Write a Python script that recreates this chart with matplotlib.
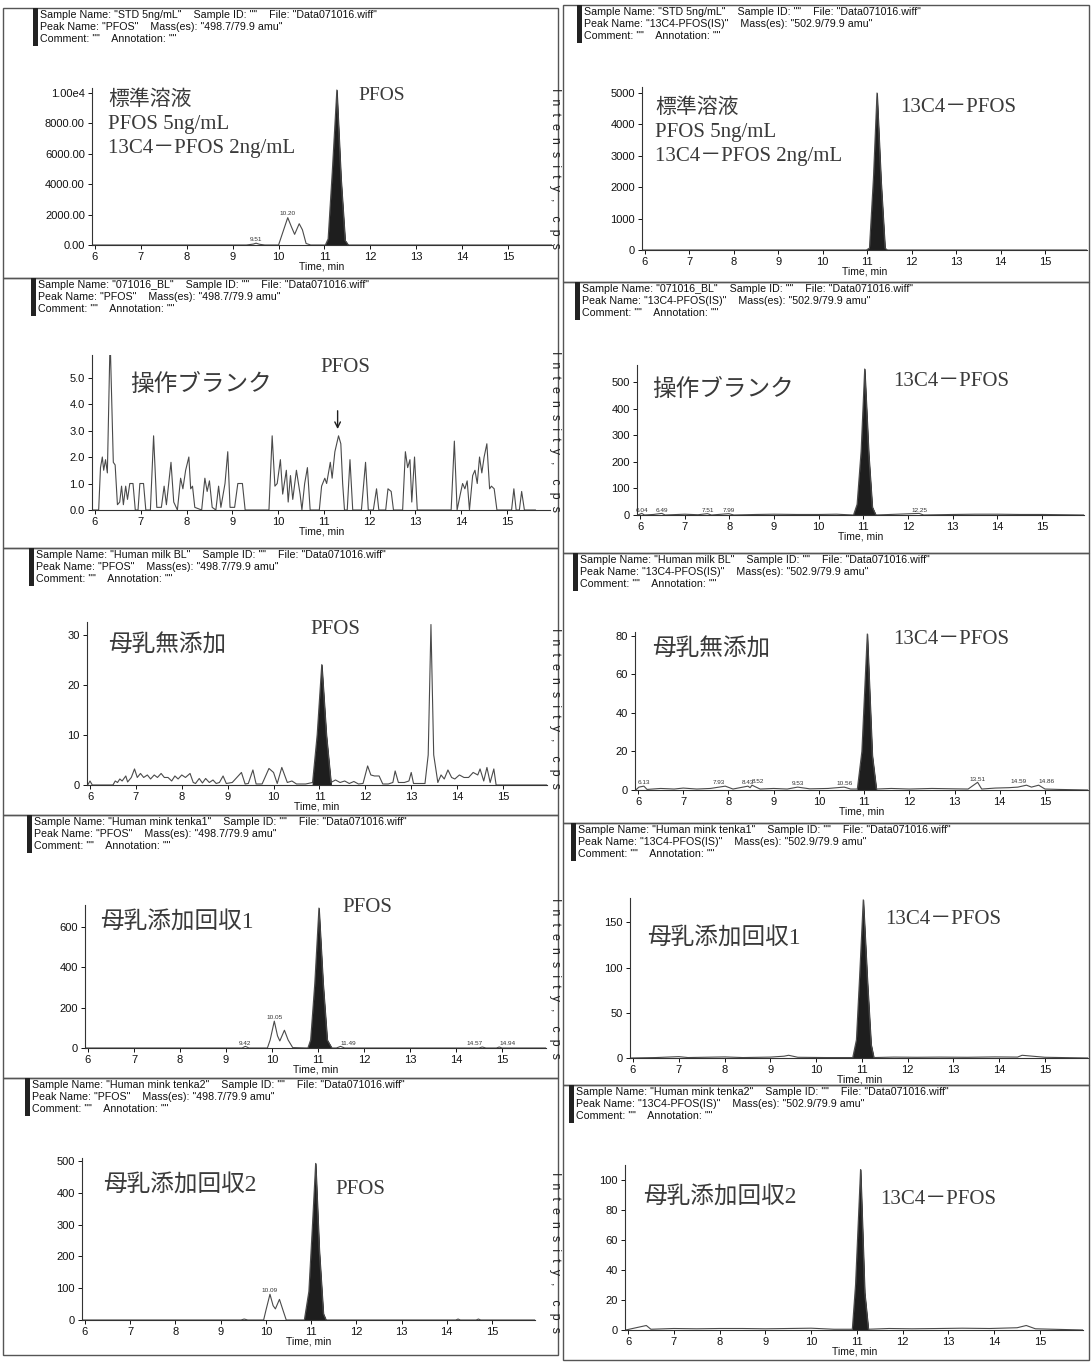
import numpy as np
import matplotlib
matplotlib.use("Agg")
import matplotlib.pyplot as plt
from matplotlib.patches import Rectangle

W, H = 1091, 1364

# ---------------- data (time in min, intensity in cps) ----------------
# STD 5ng/mL - PFOS
std_pfos_t = [5.95, 9.30, 9.45, 9.51, 9.58, 9.70, 10.00, 10.10, 10.20, 10.28, 10.35, 10.45,
              10.52, 10.60, 10.70, 11.02, 11.08, 11.17, 11.27, 11.36, 11.45, 11.52, 15.95]
std_pfos_y = [0, 0, 60, 120, 50, 0, 0, 900, 1800, 1200, 700, 1400,
              1000, 100, 0, 0, 400, 4800, 10200, 4400, 300, 0, 0]
std_pfos_fill = (11.0, 11.52)
std_pfos_marks = [(9.51, "9.51", "center"), (10.20, "10.20", "center")]

# STD 5ng/mL - 13C4-PFOS(IS)
std_is_t = [5.95, 8.0, 10.98, 11.05, 11.14, 11.22, 11.31, 11.40, 11.45, 15.95]
std_is_y = [0, 0, 0, 60, 2300, 5000, 2200, 60, 0, 0]
std_is_fill = (10.98, 11.45)
std_is_marks = []

# 071016_BL - PFOS (noise only)
bl_pfos_t = [5.95, 6.08, 6.12, 6.16, 6.19, 6.23, 6.27, 6.33, 6.40, 6.44, 6.49, 6.54, 6.58, 6.62,
             6.67, 6.71, 6.76, 6.83, 6.88, 6.94, 6.98, 7.06, 7.11, 7.21, 7.28, 7.35, 7.45, 7.51,
             7.56, 7.61, 7.66, 7.72, 7.80, 7.87, 7.92, 7.98, 8.05, 8.09, 8.13, 8.18, 8.33, 8.40,
             8.45, 8.50, 8.56, 8.64, 8.70, 8.75, 8.80, 8.84, 8.90, 8.95, 9.05, 9.12, 9.22, 9.28,
             9.80, 9.87, 9.93, 9.98, 10.05, 10.10, 10.18, 10.22, 10.27, 10.32, 10.40, 10.48,
             10.52, 10.58, 10.64, 10.70, 10.90, 10.95, 11.02, 11.06, 11.14, 11.18, 11.24, 11.32,
             11.37, 11.41, 11.45, 11.51, 11.57, 11.63, 11.82, 11.91, 11.97, 12.08, 12.15, 12.20,
             12.35, 12.40, 12.47, 12.52, 12.72, 12.78, 12.83, 12.88, 12.92, 12.98, 13.04, 13.78,
             13.85, 13.91, 13.98, 14.03, 14.08, 14.13, 14.18, 14.25, 14.30, 14.35, 14.40, 14.45,
             14.50, 14.56, 14.62, 14.66, 14.72, 14.78, 15.10, 15.15, 15.20, 15.27, 15.32, 15.38, 15.62]
bl_pfos_y = [0.0, 0.0, 1.6, 2.0, 1.5, 1.9, 1.4, 6.5, 1.8, 1.7, 0.2, 0.3, 0.9, 0.2,
             0.9, 0.4, 1.0, 1.0, 0.0, 0.0, 1.0, 1.0, 0.0, 0.0, 2.8, 0.1, 0.1, 0.9,
             0.2, 1.0, 1.8, 0.3, 0.0, 1.2, 0.8, 1.5, 2.0, 0.8, 0.9, 0.1, 0.0, 1.2,
             0.7, 1.1, 0.1, 0.0, 0.9, 0.1, 0.6, 1.0, 2.2, 0.1, 0.1, 1.0, 1.0, 0.0,
             0.0, 2.8, 0.9, 1.0, 1.9, 0.6, 1.5, 0.3, 1.3, 0.4, 1.5, 0.6,
             0.0, 1.0, 1.6, 0.0, 0.0, 0.9, 1.2, 1.0, 1.8, 1.2, 2.2, 2.8,
             2.5, 1.0, 0.0, 0.0, 1.9, 0.0, 0.0, 1.8, 0.0, 0.0, 0.8, 0.0,
             0.0, 0.8, 0.7, 0.0, 0.0, 2.2, 1.6, 1.9, 0.3, 2.0, 0.0, 0.0,
             2.6, 0.0, 0.6, 1.0, 0.8, 1.1, 0.0, 1.3, 1.5, 1.0, 2.0, 1.4,
             2.0, 2.5, 0.8, 0.9, 0.8, 0.0, 0.0, 0.8, 0.0, 0.0, 0.7, 0.0, 0.0]
bl_pfos_fill = None
bl_pfos_marks = []

# 071016_BL - 13C4-PFOS(IS)
bl_is_t = [5.95, 6.04, 6.10, 6.30, 6.49, 6.56, 7.00, 7.30, 7.51, 7.60, 7.99, 8.10, 8.60, 9.00,
           9.50, 10.00, 10.40, 10.78, 10.86, 10.95, 11.03, 11.12, 11.20, 11.28, 11.60, 12.25,
           12.35, 13.00, 13.50, 14.00, 14.50, 15.00, 15.95]
bl_is_y = [0, 6, 0, 2, 6, 0, 3, 1, 5, 0, 5, 0, 2, 3,
           2, 2, 3, 0, 40, 240, 550, 230, 30, 0, 2, 6,
           0, 2, 3, 3, 2, 2, 0]
bl_is_fill = (10.78, 11.28)
bl_is_marks = [(6.04, "6.04", "center"), (6.49, "6.49", "center"), (7.51, "7.51", "center"),
               (7.99, "7.99", "center"), (12.25, "12.25", "center")]

# Human milk BL - PFOS
milk_pfos_t = [5.95, 6.00, 6.05, 6.50, 6.55, 6.60, 6.65, 6.70, 6.78, 6.82, 6.90, 6.97, 7.03, 7.10,
               7.17, 7.25, 7.32, 7.40, 7.47, 7.55, 7.62, 7.70, 7.78, 7.85, 7.92, 8.00, 8.08, 8.18,
               8.25, 8.30, 8.38, 8.45, 8.52, 8.60, 8.68, 8.75, 8.82, 8.90, 8.97, 9.10, 9.20, 9.30,
               9.38, 9.45, 9.55, 9.62, 9.75, 9.90, 10.00, 10.08, 10.18, 10.30, 10.40, 10.50, 10.70,
               10.85, 10.95, 11.05, 11.15, 11.25, 11.35, 11.45, 11.55, 11.65, 11.75, 11.85, 11.95,
               12.05, 12.12, 12.20, 12.30, 12.38, 12.50, 12.60, 12.65, 12.72, 12.85, 12.95, 13.00,
               13.05, 13.30, 13.37, 13.43, 13.49, 13.58, 13.65, 13.72, 13.80, 13.88, 13.95, 14.05,
               14.15, 14.25, 14.35, 14.45, 14.50, 14.58, 14.65, 14.72, 14.80, 14.85, 15.95]
milk_pfos_y = [0.0, 0.8, 0.0, 0.0, 0.8, 0.5, 1.2, 0.8, 1.8, 0.6, 1.5, 3.2, 1.5, 2.3,
               1.5, 2.0, 1.2, 2.0, 1.5, 2.3, 1.5, 1.5, 0.8, 1.8, 1.2, 2.0, 1.5, 2.3,
               0.5, 0.3, 1.3, 0.4, 1.3, 0.5, 1.0, 0.3, 0.5, 1.8, 0.3, 0.5, 1.5, 2.5,
               0.2, 0.3, 3.0, 0.2, 0.2, 3.3, 2.5, 0.3, 3.5, 0.5, 0.8, 0.2, 0.2,
               0.5, 10.0, 24.0, 10.0, 0.5, 1.0, 0.5, 0.8, 0.3, 0.7, 0.2, 0.3,
               3.8, 2.0, 1.8, 1.8, 0.2, 0.2, 0.5, 2.8, 0.5, 0.5, 0.8, 2.5,
               0.3, 0.3, 6.0, 32.0, 6.0, 0.5, 2.0, 1.2, 3.0, 1.5, 1.2, 2.0,
               1.5, 1.5, 2.5, 2.0, 3.2, 0.8, 3.5, 0.5, 3.2, 0.0, 0.0]
milk_pfos_fill = (10.85, 11.25)
milk_pfos_marks = []

# Human milk BL - 13C4-PFOS(IS)
milk_is_t = [5.95, 6.02, 6.13, 6.20, 6.50, 6.80, 7.00, 7.30, 7.60, 7.93, 8.10, 8.43, 8.48, 8.52,
             8.70, 9.00, 9.30, 9.53, 9.80, 10.20, 10.56, 10.70, 10.85, 10.95, 11.07, 11.18, 11.27,
             11.60, 12.00, 12.50, 13.00, 13.30, 13.51, 13.60, 13.90, 14.20, 14.40, 14.59, 14.70,
             14.86, 15.00, 15.30, 15.95]
milk_is_y = [0, 1.5, 2.0, 0.3, 0.8, 0.5, 1.0, 0.5, 0.8, 2.0, 0.5, 2.0, 1.2, 2.5,
             0.5, 0.8, 0.5, 1.5, 0.6, 0.8, 1.5, 0.5, 0.5, 20.0, 81.0, 18.0, 0.5,
             0.8, 0.5, 0.8, 0.6, 0.5, 4.0, 0.5, 1.0, 1.2, 1.5, 2.5, 1.5,
             2.5, 0.5, 0.3, 0.0]
milk_is_fill = (10.85, 11.27)
milk_is_marks = [(6.13, "6.13", "center"), (7.93, "7.93", "right"), (8.43, "8.43", "center"),
                 (8.52, "8.52", "left"), (9.53, "9.53", "center"), (10.56, "10.56", "center"),
                 (13.51, "13.51", "center"), (14.59, "14.59", "right"), (14.86, "14.86", "left")]

# Human mink tenka1 - PFOS
tenka1_pfos_t = [5.95, 9.35, 9.42, 9.50, 9.90, 9.96, 10.05, 10.12, 10.17, 10.27, 10.35, 10.45,
                 10.78, 10.84, 10.93, 11.02, 11.11, 11.20, 11.30, 11.40, 11.49, 11.58, 14.50,
                 14.57, 14.65, 14.88, 14.94, 15.00, 15.95]
tenka1_pfos_y = [0, 0, 8, 0, 0, 40, 133, 60, 35, 88, 40, 2,
                 0, 40, 320, 693, 320, 40, 0, 0, 8, 0, 0,
                 5, 0, 0, 5, 0, 0]
tenka1_pfos_fill = (10.78, 11.30)
tenka1_pfos_marks = [(9.42, "9.42", "center"), (10.05, "10.05", "center"), (11.49, "11.49", "left"),
                     (14.57, "14.57", "right"), (14.94, "14.94", "left")]

# Human mink tenka1 - 13C4-PFOS(IS)
tenka1_is_t = [5.95, 6.50, 7.00, 7.20, 8.00, 8.40, 9.00, 9.30, 9.40, 9.60, 10.20, 10.80, 10.88,
               10.95, 11.03, 11.12, 11.20, 11.26, 11.70, 12.20, 12.70, 13.30, 13.90, 14.40,
               14.50, 15.00, 15.95]
tenka1_is_y = [0, 0.5, 1.5, 0.5, 1.2, 0.5, 1.0, 2.0, 3.0, 0.8, 0.5, 0.5, 20,
               90, 175, 85, 15, 0.5, 1.0, 0.8, 1.0, 0.8, 1.2, 1.0,
               3.0, 0.8, 0.0]
tenka1_is_fill = (10.80, 11.26)
tenka1_is_marks = []

# Human mink tenka2 - PFOS
tenka2_pfos_t = [5.95, 9.45, 9.52, 9.60, 9.95, 10.00, 10.09, 10.16, 10.21, 10.30, 10.38, 10.45,
                 10.85, 10.95, 11.03, 11.10, 11.18, 11.27, 11.33, 14.20, 14.25, 14.30, 14.65,
                 14.70, 14.75, 15.95]
tenka2_pfos_y = [0, 0, 3, 0, 0, 30, 81, 45, 35, 65, 30, 0,
                 0, 90, 300, 493, 220, 20, 0, 0, 3, 0, 0,
                 3, 0, 0]
tenka2_pfos_fill = (10.85, 11.33)
tenka2_pfos_marks = [(10.09, "10.09", "center")]

# Human mink tenka2 - 13C4-PFOS(IS)
tenka2_is_t = [5.95, 6.10, 6.40, 6.50, 7.00, 7.50, 8.00, 8.50, 9.00, 9.50, 10.00, 10.50, 10.90,
               10.97, 11.08, 11.17, 11.25, 11.70, 12.20, 12.80, 13.30, 13.90, 14.50, 14.70,
               14.90, 15.95]
tenka2_is_y = [0, 1.0, 3.0, 0.5, 1.0, 0.8, 1.0, 1.0, 0.8, 1.0, 1.2, 0.5, 0.5,
               30, 107, 25, 0.5, 1.0, 0.8, 1.0, 1.2, 1.0, 1.5, 3.0,
               0.8, 0.0]
tenka2_is_fill = (10.90, 11.25)
tenka2_is_marks = []

# axis ticks / labels
std_pfos_yticks = [0, 2000, 4000, 6000, 8000, 10000]
std_pfos_ylabels = ["0.00", "2000.00", "4000.00", "6000.00", "8000.00", "1.00e4"]
std_is_yticks = [0, 1000, 2000, 3000, 4000, 5000]
bl_pfos_yticks = [0, 1, 2, 3, 4, 5]
bl_pfos_ylabels = ["0.0", "1.0", "2.0", "3.0", "4.0", "5.0"]
bl_is_yticks = [0, 100, 200, 300, 400, 500]
milk_pfos_yticks = [0, 10, 20, 30]
milk_is_yticks = [0, 20, 40, 60, 80]
tenka1_pfos_yticks = [0, 200, 400, 600]
tenka1_is_yticks = [0, 50, 100, 150]
tenka2_pfos_yticks = [0, 100, 200, 300, 400, 500]
tenka2_is_yticks = [0, 20, 40, 60, 80, 100]
xticks = [6, 7, 8, 9, 10, 11, 12, 13, 14, 15]

samples = ["STD 5ng/mL", "071016_BL", "Human milk BL", "Human mink tenka1", "Human mink tenka2"]
peak_pfos = ('"PFOS"', '"498.7/79.9 amu"')
peak_is = ('"13C4-PFOS(IS)"', '"502.9/79.9 amu"')
notes = ["標準溶液", "操作ブランク", "母乳無添加", "母乳添加回収1", "母乳添加回収2"]
std_lines = ["PFOS 5ng/mL", "13C4－PFOS 2ng/mL"]

HEAD = ["Liberation Sans", "DejaVu Sans"]
JP = ["Liberation Serif", "Noto Sans CJK JP", "DejaVu Sans"]
TRACE = "#4a4a4a"
INK = "#1e1e1e"
NOTE = "#3a3a3a"

fig = plt.figure(figsize=(W / 100, H / 100), dpi=100)
fig.patch.set_facecolor("white")


def fx(x):
    return x / W


def fy(y):
    return 1 - y / H


def header(x, y, sample, peak):
    lines = ['Sample Name: "%s"    Sample ID: ""    File: "Data071016.wiff"' % sample,
             'Peak Name: %s    Mass(es): %s' % peak,
             'Comment: ""    Annotation: ""']
    for i, s in enumerate(lines):
        fig.text(fx(x), fy(y + i * 12), s, fontsize=7.7, family=HEAD, va="center", ha="left", color="#111")
    fig.add_artist(Rectangle((fx(x - 7), fy(y + 31)), 5 / W, 38 / H, transform=fig.transFigure,
                             color="#222", lw=0))


def frame(x0, y0, x1, y1):
    fig.add_artist(Rectangle((fx(x0), fy(y1)), (x1 - x0) / W, (y1 - y0) / H, transform=fig.transFigure,
                             fill=False, ec="#555", lw=1.0))


def note(x, y, s, size):
    fig.text(fx(x), fy(y), s, fontsize=size, family=JP, va="center", color=NOTE)


def panel(t, y, fill, marks, yticks, ylabels, ytop, x6, x15, y0, ytop_px, mark_off):
    ppm = (x15 - x6) / 9.0
    xl, xr = 5.93, 15.95
    left = x6 + (xl - 6) * ppm
    right = x6 + (xr - 6) * ppm
    ax = fig.add_axes([fx(left), fy(y0), (right - left) / W, (y0 - ytop_px) / H])
    t = np.array(t, dtype=float)
    y = np.array(y, dtype=float)
    ax.plot(t, y, color=TRACE, lw=0.8)
    if fill is not None:
        m = (t >= fill[0]) & (t <= fill[1])
        ax.fill_between(t[m], y[m], 0, color=INK, lw=0.6, ec=INK)
    for tm, txt, ha in marks:
        ax.annotate(txt, (tm, np.interp(tm, t, y)), xytext=(0, mark_off), textcoords="offset points",
                    ha=ha, va="bottom", fontsize=4.6, family=HEAD, color="#333")
    ax.set_xlim(xl, xr)
    ax.set_ylim(0, ytop)
    ax.set_xticks(xticks)
    ax.set_yticks(yticks)
    ax.set_yticklabels(ylabels if ylabels else [str(v) for v in yticks])
    for s in ["top", "right"]:
        ax.spines[s].set_visible(False)
    for s in ["left", "bottom"]:
        ax.spines[s].set_linewidth(0.8)
        ax.spines[s].set_color("#333")
    ax.tick_params(length=3, width=0.7, labelsize=8, pad=2, colors="#111")
    for lb in ax.get_xticklabels() + ax.get_yticklabels():
        lb.set_family(HEAD)
    ax.set_xlabel("Time, min", fontsize=7.5, family=HEAD, labelpad=0, color="#111")
    ax.patch.set_alpha(0)
    return ax


# ---------------- frames and headers ----------------
row_left = [8, 278, 548, 815, 1078, 1355]
row_right = [5, 282, 553, 823, 1085, 1360]
for i in range(5):
    frame(3, row_left[i], 558, row_left[i + 1])
    frame(563, row_right[i], 1089, row_right[i + 1])
    header(40 - i * 2, row_left[i] + 7, samples[i], peak_pfos)
    header(584 - i * 2, row_right[i] + 7, samples[i], peak_is)

# ---------------- panels ----------------
panel(std_pfos_t, std_pfos_y, std_pfos_fill, std_pfos_marks, std_pfos_yticks, std_pfos_ylabels, 10330,
      95, 508, 245, 88, 1)
panel(std_is_t, std_is_y, std_is_fill, std_is_marks, std_is_yticks, None, 5190,
      645, 1045, 250, 87, 1)
ax3 = panel(bl_pfos_t, bl_pfos_y, bl_pfos_fill, bl_pfos_marks, bl_pfos_yticks, bl_pfos_ylabels, 5.85,
            95, 507, 510, 355, 1)
panel(bl_is_t, bl_is_y, bl_is_fill, bl_is_marks, bl_is_yticks, None, 565,
      640, 1042, 515, 365, 0.5)
panel(milk_pfos_t, milk_pfos_y, milk_pfos_fill, milk_pfos_marks, milk_pfos_yticks, None, 32.5,
      90, 503, 785, 622, 1)
panel(milk_is_t, milk_is_y, milk_is_fill, milk_is_marks, milk_is_yticks, None, 82,
      638, 1045, 790, 632, 0.5)
panel(tenka1_pfos_t, tenka1_pfos_y, tenka1_pfos_fill, tenka1_pfos_marks, tenka1_pfos_yticks, None, 708,
      88, 502, 1048, 905, 0.5)
panel(tenka1_is_t, tenka1_is_y, tenka1_is_fill, tenka1_is_marks, tenka1_is_yticks, None, 177,
      633, 1045, 1058, 898, 1)
panel(tenka2_pfos_t, tenka2_pfos_y, tenka2_pfos_fill, tenka2_pfos_marks, tenka2_pfos_yticks, None, 510,
      85, 492, 1320, 1158, 1)
panel(tenka2_is_t, tenka2_is_y, tenka2_is_fill, tenka2_is_marks, tenka2_is_yticks, None, 110,
      628, 1040, 1330, 1165, 1)

# arrow pointing to the PFOS position in the blank
ax3.annotate("", xy=(11.3, 2.95), xytext=(11.3, 3.85),
             arrowprops=dict(arrowstyle="->", lw=1.0, color=INK))

# ---------------- hand-written style annotations ----------------
note(108, 100, notes[0], 15)
note(108, 124, std_lines[0], 15)
note(108, 148, std_lines[1], 15)
note(358, 96, "PFOS", 14)

note(655, 108, notes[0], 15)
note(655, 132, std_lines[0], 15)
note(655, 156, std_lines[1], 15)
note(900, 108, "13C4－PFOS", 15)

note(130, 385, notes[1], 17)
note(320, 368, "PFOS", 15)
note(652, 390, notes[1], 17)
note(893, 382, "13C4－PFOS", 15)

note(108, 646, notes[2], 17)
note(310, 630, "PFOS", 15)
note(652, 650, notes[2], 17)
note(893, 640, "13C4－PFOS", 15)

note(100, 922, notes[3], 17)
note(342, 908, "PFOS", 15)
note(647, 938, notes[3], 17)
note(885, 920, "13C4－PFOS", 15)

note(103, 1185, notes[4], 17)
note(335, 1190, "PFOS", 15)
note(643, 1197, notes[4], 17)
note(880, 1200, "13C4－PFOS", 15)

# rotated "Intensity, cps" labels between the two columns
for yc in [168, 432, 708, 978, 1252]:
    fig.text(fx(555), fy(yc), "I  n  t  e  n  s  i  t  y  ,    c  p  s", rotation=-90, fontsize=9,
             family=HEAD, ha="center", va="center", color="#222")

fig.savefig("out.png", dpi=100, facecolor="white")
